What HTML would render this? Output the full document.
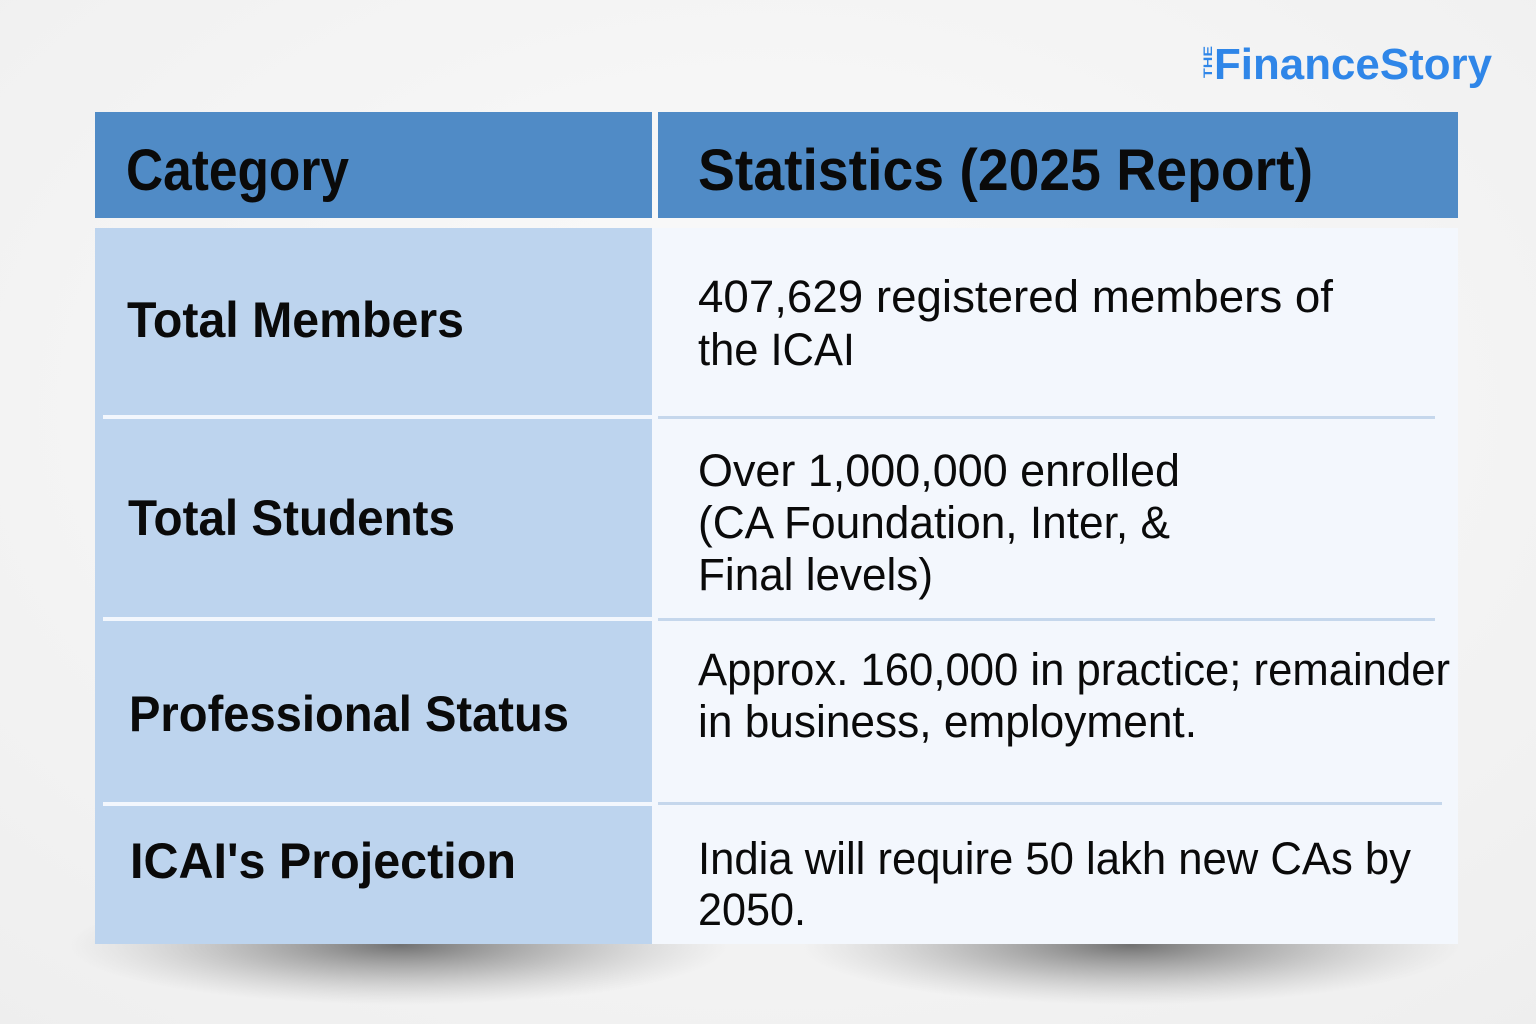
<!DOCTYPE html>
<html><head><meta charset="utf-8"><style>
html,body{margin:0;padding:0;width:1536px;height:1024px;overflow:hidden;background:#f4f4f4;}
svg{display:block}
text{font-family:"Liberation Sans",sans-serif;fill:#0a0a0a}
.b{font-weight:bold}
</style></head><body>
<svg width="1536" height="1024" viewBox="0 0 1536 1024" xmlns="http://www.w3.org/2000/svg">
<defs>
<radialGradient id="bg" cx="0.5" cy="0.4" r="0.8"><stop offset="0" stop-color="#fbfbfb"/><stop offset="1" stop-color="#eeeeee"/></radialGradient>
<radialGradient id="sh" cx="0.5" cy="0.5" r="0.5"><stop offset="0" stop-color="#6a6a6a" stop-opacity="0.95"/><stop offset="0.5" stop-color="#8a8a8a" stop-opacity="0.5"/><stop offset="1" stop-color="#aaa" stop-opacity="0"/></radialGradient>
</defs>
<rect width="1536" height="1024" fill="url(#bg)"/>
<!-- shadows -->
<ellipse cx="400" cy="945" rx="330" ry="60" fill="url(#sh)"/>
<ellipse cx="1130" cy="945" rx="330" ry="60" fill="url(#sh)"/>
<!-- logo -->
<text transform="translate(1212,78) rotate(-90)" x="0" y="0" font-size="12" class="b" style="fill:#2f86e8" textLength="32" lengthAdjust="spacingAndGlyphs">THE</text>
<text x="1214" y="79" font-size="44" class="b" style="fill:#2f86e8" textLength="278" lengthAdjust="spacingAndGlyphs">FinanceStory</text>
<!-- header -->
<rect x="95" y="112" width="557" height="106" fill="#508bc6"/>
<rect x="658" y="112" width="800" height="106" fill="#508bc6"/>
<!-- body -->
<rect x="95" y="228" width="557" height="716" fill="#bdd4ee"/>
<rect x="652" y="228" width="806" height="716" fill="#f3f7fd"/>
<rect x="103" y="415" width="549" height="4" fill="#f3f7fd"/>
<rect x="103" y="617" width="549" height="4" fill="#f3f7fd"/>
<rect x="103" y="802" width="549" height="4" fill="#f3f7fd"/>
<rect x="658" y="416" width="777" height="3" fill="#c5d7ec"/>
<rect x="658" y="618" width="777" height="3" fill="#c5d7ec"/>
<rect x="658" y="802" width="784" height="3" fill="#c5d7ec"/>
<!-- header text -->
<text class="b" x="126" y="190" font-size="58" textLength="223" lengthAdjust="spacingAndGlyphs">Category</text>
<text class="b" x="698" y="190" font-size="58" textLength="615" lengthAdjust="spacingAndGlyphs">Statistics (2025 Report)</text>
<!-- left -->
<text class="b" x="127" y="337" font-size="50" textLength="337" lengthAdjust="spacingAndGlyphs">Total Members</text>
<text class="b" x="128" y="535" font-size="50" textLength="327" lengthAdjust="spacingAndGlyphs">Total Students</text>
<text class="b" x="129" y="731" font-size="50" textLength="440" lengthAdjust="spacingAndGlyphs">Professional Status</text>
<text class="b" x="130" y="878" font-size="50" textLength="386" lengthAdjust="spacingAndGlyphs">ICAI's Projection</text>
<!-- right -->
<text x="698" y="312" font-size="45" textLength="635" lengthAdjust="spacingAndGlyphs">407,629 registered members of</text>
<text x="698" y="365" font-size="45" textLength="157" lengthAdjust="spacingAndGlyphs">the ICAI</text>
<text x="698" y="486" font-size="45" textLength="482" lengthAdjust="spacingAndGlyphs">Over 1,000,000 enrolled</text>
<text x="698" y="538" font-size="45" textLength="472" lengthAdjust="spacingAndGlyphs">(CA Foundation, Inter, &amp;</text>
<text x="698" y="590" font-size="45" textLength="235" lengthAdjust="spacingAndGlyphs">Final levels)</text>
<text x="698" y="685" font-size="45" textLength="752" lengthAdjust="spacingAndGlyphs">Approx. 160,000 in practice; remainder</text>
<text x="698" y="737" font-size="45" textLength="499" lengthAdjust="spacingAndGlyphs">in business, employment.</text>
<text x="698" y="874" font-size="45" textLength="713" lengthAdjust="spacingAndGlyphs">India will require 50 lakh new CAs by</text>
<text x="698" y="925" font-size="45" textLength="108" lengthAdjust="spacingAndGlyphs">2050.</text>
</svg>
</body></html>
